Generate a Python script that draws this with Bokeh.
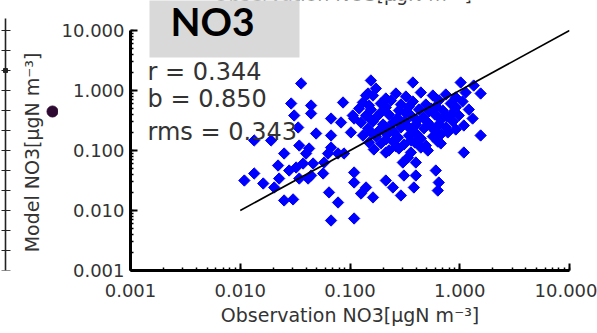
import math
from bokeh.plotting import figure
from bokeh.layouts import row
from bokeh.core.properties import value
from bokeh.models import Range1d, PrintfTickFormatter, Label, BoxAnnotation
from bokeh.embed import file_html
from bokeh.resources import INLINE

# observation (x) and model (y) NO3 values, ugN m-3
obs = [0.0359, 0.0291, 0.0442, 0.0442, 0.0864, 0.0310, 0.0672, 0.0828, 0.106, 0.0337,
       0.0491, 0.0134, 0.0191, 0.0672, 0.102, 0.0251, 0.0345, 0.0424, 0.0672, 0.0882,
       0.0109, 0.0134, 0.0162, 0.0221, 0.0226, 0.0279, 0.0323, 0.0374, 0.0398, 0.0461,
       0.0345, 0.0415, 0.0442, 0.0204, 0.0251, 0.0303, 0.0581, 0.0631, 0.0778, 0.0569,
       0.0644, 0.0778, 0.0672, 0.109, 0.109, 0.109, 0.140, 0.126, 0.162, 0.212,
       0.246, 0.291, 0.303, 0.337, 0.398, 0.398, 0.310, 0.382, 0.605, 0.644,
       0.631, 1.09, 0.512, 0.212, 0.155, 0.172, 0.146, 0.374, 1.02, 1.34,
       1.55, 1.31, 1.55, 0.778, 0.672, 0.109, 0.140, 0.212,
       0.162, 0.262, 0.323, 0.442, 0.569, 0.746, 0.920, 1.13,
       0.131, 0.191, 0.236, 0.374, 0.491, 0.644, 0.828, 1.06,
       0.121, 0.155, 0.212, 0.279, 0.344, 0.424, 0.545, 0.700, 0.920, 1.21,
       0.140, 0.176, 0.226, 0.267, 0.359, 0.461, 0.593, 0.762, 0.980,
       0.126, 0.162, 0.200, 0.246, 0.316, 0.398, 0.512, 0.644, 0.864, 1.09,
       0.146, 0.184, 0.236, 0.291, 0.374, 0.471, 0.605, 0.746,
       0.131, 0.172, 0.217, 0.273, 0.344, 0.442, 0.569,
       0.149, 0.191, 0.246, 0.310, 0.390, 0.491,
       0.165, 0.226, 0.279, 0.359,
       0.149, 0.291, 0.605,
       0.191, 0.316, 0.523, 0.864,
       0.155, 0.279, 0.407, 0.672,
       0.208, 0.330, 0.545, 0.920,
       0.155, 0.251, 0.398, 0.672,
       0.212, 0.359, 0.631,
       0.262, 0.442]
mod = [1.31, 0.607, 0.562, 0.414, 0.631, 0.383, 0.341, 0.293, 0.383, 0.242,
       0.192, 0.147, 0.147, 0.178, 0.200, 0.0891, 0.121, 0.108, 0.112, 0.0891,
       0.0316, 0.0414, 0.0282, 0.0562, 0.0341, 0.0464, 0.0521, 0.0607, 0.0891, 0.0607,
       0.0341, 0.0341, 0.0383, 0.0242, 0.0147, 0.0153, 0.0631, 0.0891, 0.0891, 0.0414,
       0.0200, 0.0136, 0.00681, 0.0430, 0.0293, 0.00736, 0.0242, 0.0192, 0.0165, 0.0316,
       0.0242, 0.0178, 0.0631, 0.0764, 0.0631, 0.0383, 0.0383, 0.0242, 0.0464, 0.0293,
       0.0215, 0.0926, 0.100, 0.0926, 1.47, 1.08, 0.891, 1.36, 1.36, 1.21,
       0.891, 0.341, 0.178, 0.200, 0.131, 0.341, 0.825, 0.736,
       0.825, 0.891, 0.794, 0.926, 0.825, 0.858, 0.765, 0.926,
       0.631, 0.607, 0.681, 0.656, 0.584, 0.681, 0.607, 0.656,
       0.501, 0.482, 0.521, 0.464, 0.541, 0.482, 0.501, 0.464, 0.521, 0.482,
       0.383, 0.369, 0.398, 0.341, 0.383, 0.355, 0.398, 0.369, 0.383,
       0.293, 0.304, 0.271, 0.293, 0.304, 0.271, 0.293, 0.271, 0.304, 0.261,
       0.233, 0.215, 0.224, 0.242, 0.215, 0.233, 0.207, 0.242,
       0.178, 0.171, 0.185, 0.165, 0.178, 0.158, 0.171,
       0.136, 0.131, 0.141, 0.126, 0.136, 0.121,
       0.104, 0.100, 0.108, 0.0926,
       0.562, 0.584, 0.541,
       0.430, 0.430, 0.447, 0.430,
       0.329, 0.329, 0.316, 0.329,
       0.251, 0.261, 0.251, 0.224,
       0.200, 0.200, 0.192, 0.185,
       0.153, 0.147, 0.141,
       0.117, 0.112]

one_to_one_x = [0.01, 10.0]
one_to_one_y = [0.01, 10.0]
axis_min, axis_max = 0.001, 10.0
stats_lines = ["r = 0.344", "b = 0.850", "rms = 0.343"]
panel_title = "NO3"
x_label = "Observation NO3[µgN m⁻³]"
y_label = "Model NO3[µgN m⁻³]"

FONT = "DejaVu Sans"
TXT = "#333333"
LEFT_W = 58
FRAME_BOTTOM = 270   # canvas row of the x axis
BOTTOM_BORDER = 333 - FRAME_BOTTOM

# ---- left strip: axis of neighbouring panel, y-axis title, marker dot (pixel coords) ----
strip = figure(width=LEFT_W, height=333, x_range=Range1d(0, LEFT_W),
               y_range=Range1d(FRAME_BOTTOM, 0),
               x_axis_location=None, y_axis_location=None, output_backend="svg",
               toolbar_location=None, min_border_left=0, min_border_right=0,
               min_border_top=0, min_border_bottom=BOTTOM_BORDER)
strip.outline_line_color = None
strip.grid.visible = False
strip.segment(x0=[5], y0=[18], x1=[5], y1=[FRAME_BOTTOM], line_color="#222222", line_width=1.6)
tick_y = list(range(30, 271, 20))
strip.segment(x0=[1] * len(tick_y), y0=tick_y, x1=[10] * len(tick_y), y1=tick_y,
              line_color="#222222", line_width=1.2)
strip.scatter([5], [70], marker="square", size=4, color="#222222")
strip.text(x=[31], y=[152], text=[y_label], angle=math.pi / 2, text_align="center",
           text_baseline="middle", text_font=value(FONT), text_font_size="19px",
           text_color=TXT)
strip.scatter([52], [111], marker="circle", size=11, color="#2e0a33")

# ---- main scatter panel ----
p = figure(width=597 - LEFT_W, height=333, x_axis_type="log", y_axis_type="log",
           x_range=Range1d(axis_min, axis_max),
           y_range=Range1d(axis_min, 10 ** 1.5),   # headroom above the axis for the title box
           output_backend="svg", toolbar_location=None,
           min_border_left=129 - LEFT_W, min_border_right=28, min_border_top=0,
           min_border_bottom=BOTTOM_BORDER)
p.outline_line_color = None
p.grid.visible = False

for ax in (p.xaxis[0], p.yaxis[0]):
    ax.bounds = (axis_min, axis_max)
    ax.axis_line_width = 3
    ax.axis_line_color = "black"
    ax.major_tick_in = 7
    ax.major_tick_out = 0
    ax.major_tick_line_width = 2
    ax.minor_tick_in = 3
    ax.minor_tick_out = 0
    ax.minor_tick_line_width = 1.5
    ax.formatter = PrintfTickFormatter(format="%.3f")
    ax.major_label_text_font = FONT
    ax.major_label_text_font_size = "18px"
    ax.major_label_text_color = TXT
    ax.axis_label_text_font = FONT
    ax.axis_label_text_font_size = "19px"
    ax.axis_label_text_font_style = "normal"
    ax.axis_label_text_color = TXT

p.xaxis.axis_label = x_label
p.xaxis.major_label_standoff = 13
p.xaxis.axis_label_standoff = 4
p.yaxis.major_label_standoff = 6

p.scatter(obs, mod, marker="square", angle=math.pi / 4, size=8,
          fill_color="#0000ff", line_color="#0000ff", line_width=1)
p.line(one_to_one_x, one_to_one_y, line_color="black", line_width=1.6)

# statistics text
for txt, yv in zip(stats_lines, [2.0, 0.708, 0.2]):
    p.add_layout(Label(x=0.00143, y=yv, text=txt, text_font=FONT, text_font_size="24px",
                       text_color=TXT, text_baseline="alphabetic"))

# (screen units are relative to the frame, origin at its bottom-left)
# clipped axis title of the panel above
p.add_layout(Label(x=83, y=277, x_units="screen", y_units="screen", text=x_label,
                   text_font=FONT, text_font_size="19px", text_color=TXT,
                   text_baseline="alphabetic"))

# grey title box with bold title
p.add_layout(BoxAnnotation(left=19, right=169, top=300, bottom=213,
                           left_units="screen", right_units="screen",
                           top_units="screen", bottom_units="screen",
                           fill_color="#d9d9d9", fill_alpha=1, line_color=None))
p.add_layout(Label(x=40, y=250, x_units="screen", y_units="screen", text=panel_title,
                   text_font="Lato", text_font_size="39px", text_font_style="bold",
                   text_color="black", text_baseline="middle"))

open("out.html", "w").write(file_html(row(strip, p), INLINE))
